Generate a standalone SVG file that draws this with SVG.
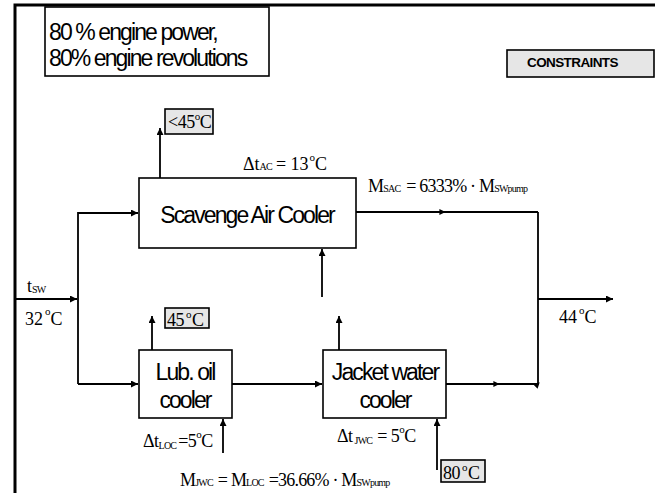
<svg xmlns="http://www.w3.org/2000/svg" width="655" height="493" viewBox="0 0 655 493">
<defs>
<marker id="ah" viewBox="0 0 10 10" refX="10" refY="5" markerWidth="7" markerHeight="7" markerUnits="userSpaceOnUse" orient="auto">
<path d="M0,0 L10,5 L0,10 z" fill="#000"/>
</marker>
<marker id="mid" viewBox="0 0 10 10" refX="6" refY="5" markerWidth="6" markerHeight="6" markerUnits="userSpaceOnUse" orient="auto">
<path d="M0,0 L10,5 L0,10 z" fill="#000"/>
</marker>
</defs>
<style>
.box{fill:#fff;stroke:#000;stroke-width:1.6}
.gbox{fill:#e6e6e6;stroke:#000;stroke-width:1.6}
.ln{fill:none;stroke:#000;stroke-width:1.8}
.sans{font-family:"Liberation Sans",Arial,sans-serif;fill:#000}
.big{font-size:23px;letter-spacing:-1.9px}
.ser{font-family:"Liberation Serif","Times New Roman",serif;fill:#000;font-size:18px}
.sub{font-size:10px;letter-spacing:-0.8px}
.sup{font-size:11px}
</style>
<rect width="655" height="493" fill="#fff"/>
<path d="M15,493 V5 H655" fill="none" stroke="#000" stroke-width="3"/>

<g id="title">
<rect class="box" x="45" y="7" width="224" height="69"/>
<text class="sans big" x="49" y="40">80 % engine power,</text>
<text class="sans big" x="49" y="66">80% engine revolutions</text>
</g>

<g id="constraints">
<rect class="gbox" x="507" y="50" width="147" height="27"/>
<text class="sans" x="527" y="67" font-size="13.5" font-weight="bold" letter-spacing="-0.6">CONSTRAINTS</text>
</g>

<g id="sac">
<rect class="box" x="139" y="178" width="217" height="70"/>
<text class="sans big" x="247" y="223" text-anchor="middle">Scavenge Air Cooler</text>
</g>

<g id="loc">
<rect class="box" x="139" y="350" width="93" height="68"/>
<text class="sans big" x="185" y="380" text-anchor="middle">Lub. oil</text>
<text class="sans big" x="185" y="408" text-anchor="middle">cooler</text>
</g>

<g id="jwc">
<rect class="box" x="323" y="350" width="123" height="68"/>
<text class="sans big" x="385" y="380" text-anchor="middle">Jacket water</text>
<text class="sans big" x="385" y="408" text-anchor="middle">cooler</text>
</g>

<g id="c45a">
<rect class="gbox" x="165" y="109" width="48" height="25"/>
<text class="ser" x="168" y="128" font-size="16" letter-spacing="-0.5">&lt;45<tspan class="sup" dy="-8">o</tspan><tspan dy="8">C</tspan></text>
</g>

<g id="c45b">
<rect class="gbox" x="165" y="308" width="44" height="20"/>
<text class="ser" x="167" y="326" font-size="16" fill="#555" letter-spacing="-0.5">45<tspan class="sup" dy="-8" dx="2">o</tspan><tspan dy="8" dx="1">C</tspan></text>
</g>

<g id="c80">
<rect class="gbox" x="441" y="460" width="44" height="22"/>
<text class="ser" x="443" y="479" font-size="16" letter-spacing="-0.5">80<tspan class="sup" dy="-8" dx="2">o</tspan><tspan dy="8" dx="1">C</tspan></text>
</g>

<g id="connectors">
<path class="ln" d="M16,299 H77" marker-end="url(#ah)"/>
<path class="ln" d="M78,384 V213 H138" marker-end="url(#ah)"/>
<path class="ln" d="M78,384 H138" marker-end="url(#ah)"/>
<path class="ln" d="M160,178 V128" marker-end="url(#ah)"/>
<path class="ln" d="M152,350 V316" marker-end="url(#ah)"/>
<path class="ln" d="M223,453 V419" marker-end="url(#ah)"/>
<path class="ln" d="M232,384 H322" marker-end="url(#ah)"/>
<path class="ln" d="M339,350 V316" marker-end="url(#ah)"/>
<path class="ln" d="M322,297 V249" marker-end="url(#ah)"/>
<path class="ln" d="M437,470 V419" marker-end="url(#ah)"/>
<path class="ln" d="M446,384 H497 H538 V212" marker-mid="url(#mid)"/>
<path class="ln" d="M356,212 H443 H538" marker-mid="url(#mid)"/>
<path class="ln" d="M538,299 H613" marker-end="url(#ah)"/>
</g>

<g id="labels">
<text class="ser" x="27" y="292" font-size="16">t<tspan class="sub" font-size="9" dy="1">SW</tspan></text>
<text class="ser" x="25" y="325" font-size="20">32<tspan class="sup" dy="-10" dx="2">o</tspan><tspan dy="10">C</tspan></text>
<text class="ser" x="559" y="323">44<tspan class="sup" dy="-9" dx="2">o</tspan><tspan dy="9">C</tspan></text>
<text class="ser" x="243" y="170">Δt<tspan class="sub" dy="0">AC</tspan><tspan dx="4">= 13</tspan><tspan class="sup" dy="-9" dx="1">o</tspan><tspan dy="9">C</tspan></text>
<text class="ser" x="368" y="192" letter-spacing="-0.8">M<tspan class="sub">SAC</tspan><tspan dx="6">= 6333% · M</tspan><tspan class="sub">SWpump</tspan></text>
<text class="ser" x="143" y="447" letter-spacing="-0.5">Δt<tspan class="sub" dy="2">LOC</tspan><tspan dy="-2" dx="2">=5</tspan><tspan class="sup" dy="-9">o</tspan><tspan dy="9">C</tspan></text>
<text class="ser" x="337" y="442" letter-spacing="-0.5">Δt<tspan class="sub" dy="2" dx="2">JWC</tspan><tspan dy="-2" dx="5">= 5</tspan><tspan class="sup" dy="-9">o</tspan><tspan dy="9">C</tspan></text>
<text class="ser" x="180" y="486" letter-spacing="-0.8">M<tspan class="sub">JWC</tspan><tspan dx="5">= M</tspan><tspan class="sub">LOC</tspan><tspan dx="5">=36.66% · M</tspan><tspan class="sub">SWpump</tspan></text>
</g>
</svg>
